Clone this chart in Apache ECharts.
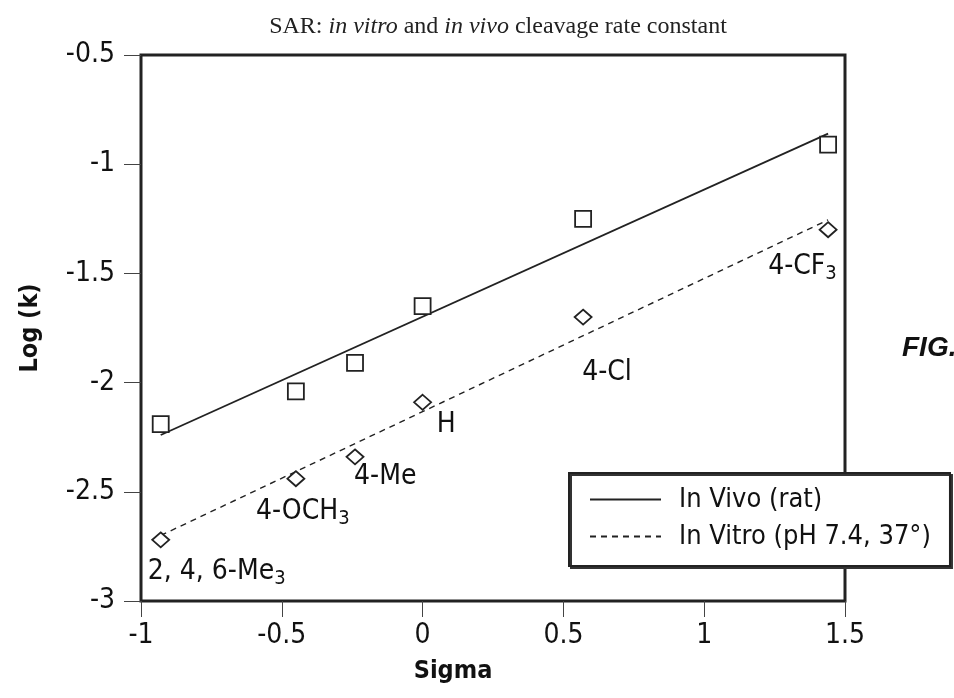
<!DOCTYPE html>
<html>
<head>
<meta charset="utf-8">
<script src="https://cdn.jsdelivr.net/npm/echarts@6/dist/echarts.min.js"></script>
<style>
  html, body { margin: 0; padding: 0; background: #fff; }
  #chart { width: 954px; height: 698px; }
</style>
</head>
<body>
<div id="chart"></div>
<script>
var dom = document.getElementById("chart");
var myChart = echarts.init(dom);

var narrow = "'DejaVu Sans Condensed', 'Liberation Sans Narrow', sans-serif";

// in vivo (rat): squares
var vivoSigma = [-0.93, -0.45, -0.24, 0, 0.57, 1.44];
var vivoLogK  = [-2.19, -2.04, -1.91, -1.65, -1.25, -0.91];
// in vitro (pH 7.4): diamonds
var vitroSigma = [-0.93, -0.45, -0.24, 0, 0.57, 1.44];
var vitroLogK  = [-2.72, -2.44, -2.34, -2.09, -1.70, -1.30];
var vitroNames = ['2, 4, 6-Me_3', '4-OCH_3', '4-Me', 'H', '4-Cl', '4-CF_3'];
// regression lines (end points)
var vivoFitX = [-0.93, 1.44];
var vivoFitY = [-2.24, -0.86];
var vitroFitX = [-0.93, 1.44];
var vitroFitY = [-2.70, -1.255];

var xTicks = [-1, -0.5, 0, 0.5, 1, 1.5];
var yTicks = [-3, -2.5, -2, -1.5, -1, -0.5];

// label placement offsets (px from the marker centre) for each substituent
var labelOffsets = [[-12, 33], [-39, 34], [0, 21], [15, 23], [0, 56], [-59, 38]];
var diamondSize = [17, 15];

function sub(name) {
    var p = name.split('_');
    return p.length > 1 ? '{a|' + p[0] + '}{s|' + p[1] + '}' : '{a|' + p[0] + '}';
}

function pairs(xs, ys) {
    return xs.map(function (x, i) { return [x, ys[i]]; });
}

var labelRich = {
    a: { fontFamily: narrow, fontSize: 28, color: '#111' },
    s: { fontFamily: narrow, fontSize: 20, color: '#111', padding: [14, 0, 0, 0] }
};

option = {
    backgroundColor: '#fff',
    animation: false,
    title: {
        text: 'SAR: {i|in vitro} and {i|in vivo} cleavage rate constant',
        left: 493,
        top: 10,
        textAlign: 'center',
        textStyle: {
            fontFamily: "'Liberation Serif', serif",
            fontSize: 24,
            fontWeight: 'normal',
            color: '#222',
            rich: {
                i: { fontFamily: "'Liberation Serif', serif", fontSize: 24, fontStyle: 'italic', color: '#222' }
            }
        }
    },
    grid: {
        left: 141, right: 109, top: 55, bottom: 97,
        show: true,
        borderColor: '#222',
        borderWidth: 3,
        backgroundColor: '#fff'
    },
    legend: {
        data: ['In Vivo (rat)', 'In Vitro (pH 7.4, 37°)'],
        orient: 'vertical',
        left: 569,
        top: 473,
        padding: [13, 19, 16, 20],
        itemWidth: 71,
        itemHeight: 14,
        itemGap: 10,
        backgroundColor: '#fff',
        borderColor: '#222',
        borderWidth: 2,
        shadowColor: '#333',
        shadowOffsetX: 2,
        shadowOffsetY: 2,
        shadowBlur: 0,
        itemStyle: { opacity: 0 },
        textStyle: { fontFamily: narrow, fontSize: 27, color: '#111', padding: [0, 0, 0, 13] }
    },
    xAxis: {
        type: 'value',
        min: -1, max: 1.5, interval: 0.5,
        name: 'Sigma',
        nameLocation: 'middle',
        nameGap: 58,
        nameTextStyle: {
            fontFamily: narrow, fontSize: 25, fontWeight: 'bold', color: '#111',
            padding: [0, 80, 0, 0]
        },
        axisLine: { show: false, onZero: false },
        axisTick: { show: true, inside: false, length: 16, lineStyle: { color: '#444', width: 1 } },
        axisLabel: {
            margin: 21, fontFamily: narrow, fontSize: 28, color: '#111',
            formatter: function (v) { return xTicks.indexOf(v) >= 0 ? String(v) : ''; }
        },
        splitLine: { show: false }
    },
    yAxis: {
        type: 'value',
        min: -3, max: -0.5, interval: 0.5,
        name: 'Log (k)',
        nameLocation: 'middle',
        nameGap: 98,
        nameRotate: 90,
        nameTextStyle: { fontFamily: narrow, fontSize: 25, fontWeight: 'bold', color: '#111' },
        axisLine: { show: false, onZero: false },
        axisTick: { show: true, inside: false, length: 17, lineStyle: { color: '#444', width: 1 } },
        axisLabel: {
            margin: 26, fontFamily: narrow, fontSize: 28, color: '#111',
            formatter: function (v) { return yTicks.indexOf(v) >= 0 ? String(v) : ''; }
        },
        splitLine: { show: false }
    },
    graphic: [{
        type: 'text',
        left: 902,
        top: 334,
        style: {
            text: 'FIG.',
            fontFamily: "'Liberation Sans', sans-serif",
            fontSize: 28,
            fontWeight: 'bold',
            fontStyle: 'italic',
            fill: '#111'
        }
    }],
    series: [
        {
            name: 'In Vivo (rat)',
            type: 'line',
            data: pairs(vivoFitX, vivoFitY),
            symbol: 'none',
            lineStyle: { color: '#222', width: 1.8, type: 'solid' },
            itemStyle: { color: '#222' },
            z: 2
        },
        {
            name: 'In Vitro (pH 7.4, 37°)',
            type: 'line',
            data: pairs(vitroFitX, vitroFitY),
            symbol: 'none',
            lineStyle: { color: '#222', width: 1.4, type: [6, 5] },
            itemStyle: { color: '#222' },
            z: 2
        },
        {
            name: 'vivo points',
            type: 'scatter',
            data: pairs(vivoSigma, vivoLogK),
            symbol: 'rect',
            symbolSize: 16,
            itemStyle: { color: '#fff', borderColor: '#222', borderWidth: 1.8, opacity: 1 },
            z: 3
        },
        {
            name: 'vitro points',
            type: 'scatter',
            data: pairs(vitroSigma, vitroLogK).map(function (p, i) {
                return {
                    value: p,
                    label: {
                        show: true,
                        position: [diamondSize[0] / 2 + labelOffsets[i][0], diamondSize[1] / 2 + labelOffsets[i][1]],
                        align: 'left',
                        verticalAlign: 'middle',
                        color: '#111',
                        textBorderWidth: 0,
                        formatter: sub(vitroNames[i]),
                        rich: labelRich
                    }
                };
            }),
            symbol: 'diamond',
            symbolSize: diamondSize,
            itemStyle: { color: '#fff', borderColor: '#222', borderWidth: 1.8, opacity: 1 },
            z: 3
        }
    ]
};

if (option && typeof option === "object") {
    myChart.setOption(option, true);
}
</script>
</body>
</html>
